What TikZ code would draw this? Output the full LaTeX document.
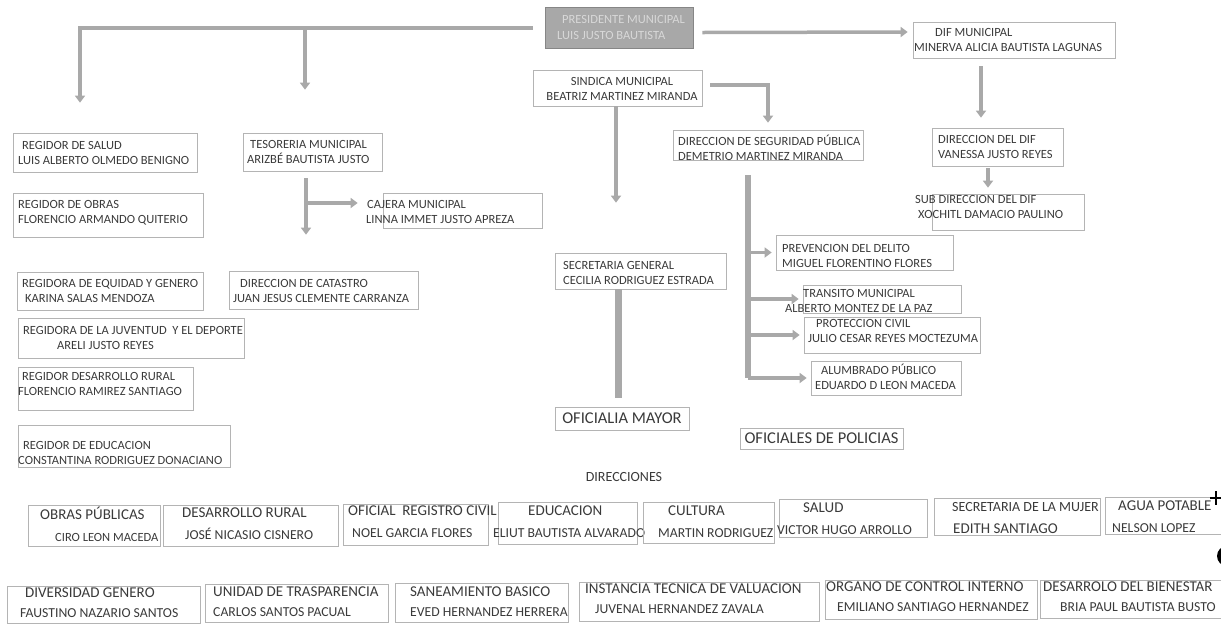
\documentclass[tikz,border=0pt]{standalone}
\usepackage{fontspec}
\setmainfont{Carlito}
\usetikzlibrary{arrows.meta,fit}
\definecolor{tinta}{HTML}{3A3A3A}
\definecolor{marco}{HTML}{B4B4B4}
\definecolor{flechagris}{HTML}{A9A9A9}
\definecolor{presfondo}{HTML}{A8A8A8}
\definecolor{prestexto}{HTML}{D8D8D8}
\newcommand{\hd}[1]{{\fontsize{15}{20}\selectfont #1}}
\tikzset{
	cargo/.style={draw=marco, line width=0.7pt, inner sep=0pt},
	nombre/.style={anchor=west, align=left, inner sep=0pt, text=tinta, font=\fontsize{12.5}{15}\selectfont},
	fila/.style={nombre, font=\fontsize{13.7}{22}\selectfont},
	filab/.style={nombre, font=\fontsize{13.7}{20}\selectfont},
	flecha/.style={draw=flechagris, line width=3.5pt, -{Triangle[width=10pt,length=7pt]}},
	barra/.style={draw=flechagris, line width=3.5pt}
}
\begin{document}
\begin{tikzpicture}[x=1pt,y=-1pt]
			\useasboundingbox (0,0) rectangle (1221,625);
			\node[cargo, fill=presfondo, draw=presfondo!80!black, fit={(545,7) (693,48)}](pres){};
			\node[nombre, text=prestexto, font=\fontsize{12.5}{16}\selectfont](tpres) at (557,27){\hspace*{5pt}PRESIDENTE MUNICIPAL\\LUIS JUSTO BAUTISTA};
			\node[cargo, fit={(533,70) (702,106)}](sind){};
			\node[nombre, anchor=center, align=center](tsind) at (622,88.5){SINDICA MUNICIPAL\\BEATRIZ MARTINEZ MIRANDA};
			\node[cargo, fit={(913,22) (1115,58)}](dif){};
			\node[nombre](tdif) at (914,40){\hspace*{21pt}DIF MUNICIPAL\\MINERVA ALICIA BAUTISTA LAGUNAS};
			\node[cargo, fit={(13,133) (197,172)}](rsal){};
			\node[nombre](trsal) at (18,152.5){\hspace*{4pt}REGIDOR DE SALUD\\LUIS ALBERTO OLMEDO BENIGNO};
			\node[cargo, fit={(13,193) (203,237)}](robr){};
			\node[nombre](trobr) at (18,213){REGIDOR DE OBRAS\\FLORENCIO ARMANDO QUITERIO};
			\node[cargo, fit={(243,133) (382,171)}](teso){};
			\node[nombre](tteso) at (247,152){\hspace*{3pt}TESORERIA MUNICIPAL\\ARIZBÉ BAUTISTA JUSTO};
			\node[cargo, fit={(383,193) (542,228)}](caje){};
			\node[nombre](tcaje) at (366,211.5){\hspace*{1pt}CAJERA MUNICIPAL\\LINNA IMMET JUSTO APREZA};
			\node[cargo, fit={(673,130) (863,160)}](seg){};
			\node[nombre](tseg) at (678,148){DIRECCION DE SEGURIDAD PÚBLICA\\DEMETRIO MARTINEZ MIRANDA};
			\node[cargo, fit={(932,128) (1063,166)}](ddif){};
			\node[nombre](tddif) at (938,146.5){DIRECCION DEL DIF\\VANESSA JUSTO REYES};
			\node[cargo, fit={(932,194) (1084,230)}](sdif){};
			\node[nombre](tsdif) at (915,207){SUB DIRECCION DEL DIF\\\hspace*{3pt}XOCHITL DAMACIO PAULINO};
			\node[cargo, fit={(776,235) (953,270)}](prev){};
			\node[nombre](tprev) at (782,255.5){PREVENCION DEL DELITO\\MIGUEL FLORENTINO FLORES};
			\node[cargo, fit={(803,285) (961,313)}](tran){};
			\node[nombre](ttran) at (785,301){\hspace*{18pt}TRANSITO MUNICIPAL\\ALBERTO MONTEZ DE LA PAZ};
			\node[cargo, fit={(804,317) (980,353)}](prot){};
			\node[nombre](tprot) at (808,331){\hspace*{8pt}PROTECCION CIVIL\\JULIO CESAR REYES MOCTEZUMA};
			\node[cargo, fit={(811,361) (961,395)}](alum){};
			\node[nombre](talum) at (815,377){\hspace*{6pt}ALUMBRADO PÚBLICO\\EDUARDO D LEON MACEDA};
			\node[cargo, fit={(555,253) (726,289)}](sec){};
			\node[nombre](tsec) at (563,273){SECRETARIA GENERAL\\CECILIA RODRIGUEZ ESTRADA};
			\node[cargo, fit={(17,272) (203,310)}](req){};
			\node[nombre](treq) at (22,290.5){REGIDORA DE EQUIDAD Y GENERO\\\hspace*{3pt}KARINA SALAS MENDOZA};
			\node[cargo, fit={(229,271) (418,309)}](cat){};
			\node[nombre](tcat) at (233,290.5){\hspace*{7pt}DIRECCION DE CATASTRO\\JUAN JESUS CLEMENTE CARRANZA};
			\node[cargo, fit={(18,318) (244,358)}](rjuv){};
			\node[nombre](trjuv) at (23,337.5){REGIDORA DE LA JUVENTUD\ \ Y EL DEPORTE\\\hspace*{34pt}ARELI JUSTO REYES};
			\node[cargo, fit={(18,367) (193,410)}](rdes){};
			\node[nombre](trdes) at (18,383.5){\hspace*{4pt}REGIDOR DESARROLLO RURAL\\FLORENCIO RAMIREZ SANTIAGO};
			\node[cargo, fit={(18,425) (230,467)}](redu){};
			\node[nombre](tredu) at (18,452.5){\hspace*{5pt}REGIDOR DE EDUCACION\\CONSTANTINA RODRIGUEZ DONACIANO};
			\node[cargo, minimum width=134pt, minimum height=23pt, text=tinta, font=\fontsize{16.5}{18}\selectfont](ofm) at (622,418.5){OFICIALIA MAYOR};
			\node[cargo, minimum width=163pt, minimum height=21pt, text=tinta, font=\fontsize{16.5}{18}\selectfont](ofp) at (821.5,438.5){OFICIALES DE POLICIAS};
			\node[text=tinta, font=\fontsize{14}{16}\selectfont](dire) at (624,477){DIRECCIONES};
			\node[cargo, fit={(28,505) (160,546)}](obr){};
			\node[fila](tobr) at (40,524){\hd{OBRAS PÚBLICAS}\\\hspace*{15pt}{\fontsize{12.5}{22}\selectfont CIRO LEON MACEDA}};
			\node[cargo, fit={(163,505) (338,546)}](drur){};
			\node[fila](tdrur) at (182,524){\hd{DESARROLLO RURAL}\\\hspace*{3pt}JOSÉ NICASIO CISNERO};
			\node[cargo, fit={(343,504) (488,545)}](ofic){};
			\node[fila](tofic) at (348,522){\hd{OFICIAL\ \ REGISTRO CIVIL}\\\hspace*{4pt}NOEL GARCIA FLORES};
			\node[cargo, fit={(498,502) (637,544)}](edu){};
			\node[fila](tedu) at (493,521.5){\hspace*{35pt}\hd{EDUCACION}\\ELIUT BAUTISTA ALVARADO};
			\node[cargo, fit={(643,502) (774,543)}](cul){};
			\node[fila](tcul) at (658,521.5){\hspace*{10pt}\hd{CULTURA}\\MARTIN RODRIGUEZ};
			\node[cargo, fit={(779,499) (927,537)}](salu){};
			\node[fila](tsalu) at (777,519){\hspace*{26pt}\hd{SALUD}\\VICTOR HUGO ARROLLO};
			\node[cargo, fit={(934,498) (1100,535)}](muj){};
			\node[fila](tmuj) at (952,518){{\fontsize{14}{22}\selectfont SECRETARIA DE LA MUJER}\\\hspace*{1pt}\hd{EDITH SANTIAGO}};
			\node[cargo, fit={(1105,497) (1225,534)}](agua){};
			\node[fila](tagua) at (1112,517){\hspace*{6pt}\hd{AGUA POTABLE}\\NELSON LOPEZ};
			\node[cargo, fit={(7,586) (200,623)}](div){};
			\node[filab](tdiv) at (20,602.5){\hspace*{5pt}\hd{DIVERSIDAD GENERO}\\FAUSTINO NAZARIO SANTOS};
			\node[cargo, fit={(205,584) (388,622)}](uni){};
			\node[filab](tuni) at (213,601.5){\hd{UNIDAD DE TRASPARENCIA}\\CARLOS SANTOS PACUAL};
			\node[cargo, fit={(395,583) (568,622)}](san){};
			\node[filab](tsan) at (410,601.5){\hd{SANEAMIENTO BASICO}\\EVED HERNANDEZ HERRERA};
			\node[cargo, fit={(579,582) (819,621)}](ins){};
			\node[filab](tins) at (585,598.5){\hd{INSTANCIA TECNICA DE VALUACION}\\\hspace*{10pt}JUVENAL HERNANDEZ ZAVALA};
			\node[cargo, fit={(825,580) (1037,619)}](org){};
			\node[filab](torg) at (826,597){\hd{ORGANO DE CONTROL INTERNO}\\\hspace*{11pt}EMILIANO SANTIAGO HERNANDEZ};
			\node[cargo, fit={(1040,580) (1225,618)}](bie){};
			\node[filab](tbie) at (1043,597){\hd{DESARROLO DEL BIENESTAR}\\\hspace*{17pt}BRIA PAUL BAUTISTA BUSTO};
			\coordinate(lft) at (80,28);
			\coordinate(tes) at (305,28);
			\coordinate(tbr) at (306,203);
			\coordinate(sv) at (748,175);
			\draw[flecha]([xshift=-12pt,yshift=-0.5pt]pres.west) -| ([yshift=30pt]rsal.north -| lft);
			\draw[flecha](tes) to ([yshift=43pt]teso.north -| tes);
			\draw[flecha]([xshift=9pt,yshift=-5pt]pres.east) to ([xshift=-5pt,yshift=8pt]dif.west);
			\draw[flecha]([xshift=8pt,yshift=3pt]sind.east) -| ([yshift=7pt]seg.north);
			\draw[flecha]([xshift=-1.5pt]sind.south) to ([xshift=-24.5pt,yshift=50pt]sec.north);
			\draw[flecha]([xshift=-33pt,yshift=-8pt]dif.south) to ([xshift=-16.5pt,yshift=10pt]ddif.north);
			\draw[flecha]([xshift=-9.5pt,yshift=-2pt]ddif.south) to ([xshift=-20pt,yshift=6pt]sdif.north);
			\draw[flecha]([xshift=-6.5pt,yshift=-7pt]teso.south) to ([xshift=-17.5pt,yshift=36pt]cat.north);
			\draw[flecha](tbr) to ([xshift=-25pt,yshift=7.5pt]caje.west);
			\draw[barra, line width=7pt]([xshift=-22.5pt]sec.south) to ([xshift=-4pt,yshift=9pt]ofm.north);
			\draw[barra, line width=6pt](sv) to (sv |- alum.west);
			\foreach \n in {prev,tran,prot,alum}
				\draw[flecha](sv |- \n.west) to ([xshift=-4pt]\n.west);
			\draw[line width=2.5pt](1216,491) to (1216,505);
			\draw[line width=2.5pt](1210,498) to (1221,498);
			\fill(1227,556) circle (10pt);
		\end{tikzpicture}
\end{document}
